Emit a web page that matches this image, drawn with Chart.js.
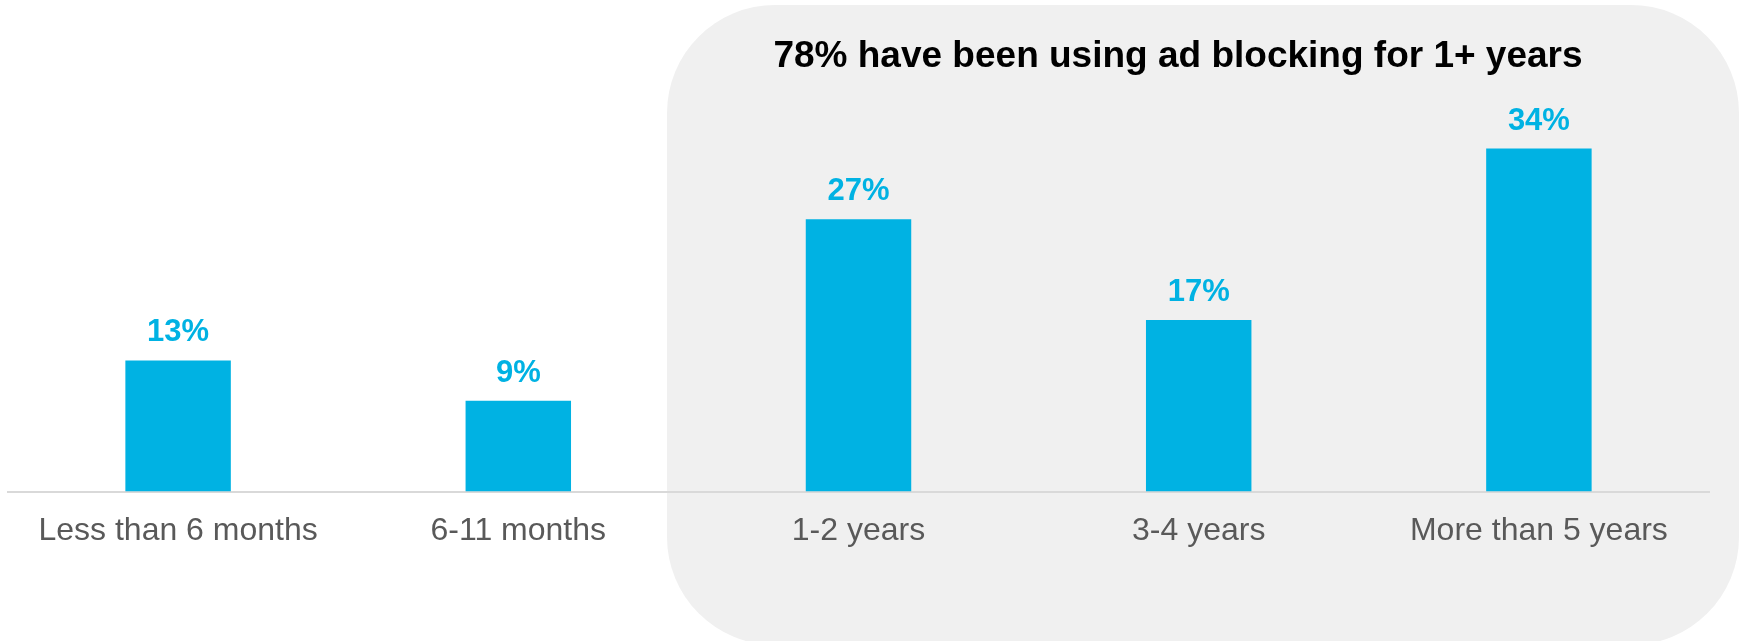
<!DOCTYPE html>
<html>
<head>
<meta charset="utf-8">
<script src="https://cdn.jsdelivr.net/npm/chart.js@4"></script>
<style>
  html, body { margin: 0; padding: 0; background: #ffffff; }
  #wrap { width: 1740px; height: 641px; position: relative; }
</style>
</head>
<body>
<div id="wrap"><canvas id="myChart"></canvas></div>
<script>
  const categories = ["Less than 6 months", "6-11 months", "1-2 years", "3-4 years", "More than 5 years"]
  const values = [13, 9, 27, 17, 34]
  const highlightTitle = "78% have been using ad blocking for 1+ years"

  const fontFamily = "'Liberation Sans', Arial, Helvetica, sans-serif"
  const barColor = "#00B2E3"

  // grey rounded panel behind the last three bars, plus its heading
  const panelPlugin = {
    id: "panel",
    beforeDraw(chart) {
      const ctx = chart.ctx
      ctx.save()
      ctx.fillStyle = "#f0f0f0"
      ctx.beginPath()
      ctx.roundRect(667, 5, 1072, 640, 108)
      ctx.fill()
      ctx.fillStyle = "#000000"
      ctx.font = "bold 37px " + fontFamily
      ctx.textAlign = "center"
      ctx.textBaseline = "alphabetic"
      ctx.fillText(highlightTitle, 1178, 67)
      ctx.restore()
    }
  }

  const valueLabels = {
    id: "valueLabels",
    afterDatasetsDraw(chart) {
      const ctx = chart.ctx
      const meta = chart.getDatasetMeta(0)
      ctx.save()
      ctx.fillStyle = barColor
      ctx.font = "bold 31px " + fontFamily
      ctx.textAlign = "center"
      ctx.textBaseline = "alphabetic"
      meta.data.forEach(function (bar, i) {
        ctx.fillText(values[i] + "%", bar.x, bar.y - 19)
      })
      ctx.restore()
    }
  }

  function drawChart() {
    const ctx = document.getElementById("myChart")
    new Chart(ctx, {
      type: "bar",
      data: {
        labels: categories,
        datasets: [
          {
            data: values,
            backgroundColor: barColor,
            borderWidth: 0,
            barPercentage: 0.31,
            categoryPercentage: 1,
          },
        ],
      },
      options: {
        responsive: true,
        maintainAspectRatio: false,
        animation: false,
        layout: {
          padding: { left: 8, right: 31, top: 88, bottom: 79 },
        },
        plugins: {
          legend: { display: false },
          tooltip: { enabled: false },
        },
        scales: {
          x: {
            grid: { display: false },
            border: { display: true, color: "#d9d9d9", width: 2 },
            ticks: {
              color: "#595959",
              font: { family: fontFamily, size: 32 },
              padding: 12,
              maxRotation: 0,
            },
          },
          y: {
            display: false,
            min: 0,
            max: 40,
          },
        },
      },
      plugins: [panelPlugin, valueLabels],
    })
  }

  document.addEventListener("DOMContentLoaded", drawChart)
</script>
</body>
</html>
